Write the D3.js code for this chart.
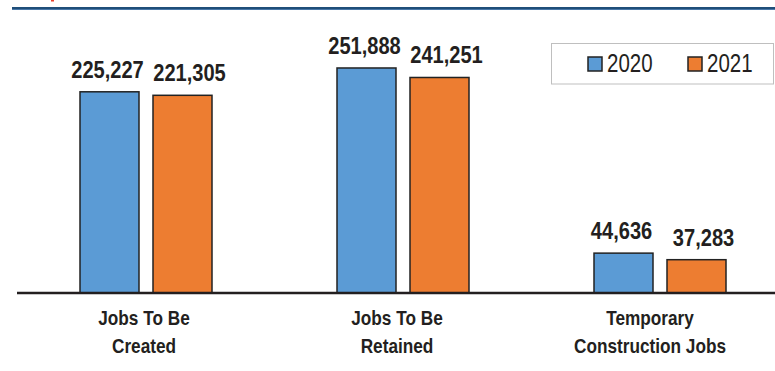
<!DOCTYPE html>
<html>
<head>
<meta charset="utf-8">
<script src="https://cdn.jsdelivr.net/npm/d3@7"></script>
<style>
  body { margin: 0; background: #fff; }
  svg { display: block; font-family: "Liberation Sans", Arial, sans-serif; }
</style>
</head>
<body>
<svg id="chart"></svg>
<script>
// chart data
const categories = [["Jobs To Be", "Created"], ["Jobs To Be", "Retained"], ["Temporary", "Construction Jobs"]];
const years = ["2020", "2021"];
const values2020 = [225227, 251888, 44636];
const values2021 = [221305, 241251, 37283];

const width = 775;
const height = 371;
const colors = { "2020": "#5B9BD5", "2021": "#ED7D31" };
const labelShift = { "2020": -2, "2021": 7 }; // labels sit a little off-centre in the original
const narrow = 0.82; // squeeze Liberation Sans into an Arial Narrow look

const svg = d3.select("#chart").attr("width", width).attr("height", height);

// header rule and the clipped red title fragment
svg.append("rect").attr("x", 12).attr("y", 7).attr("width", width - 12).attr("height", 2).attr("fill", "#1F4E79");
svg.append("rect").attr("x", 12).attr("y", 9).attr("width", width - 12).attr("height", 1).attr("fill", "#4A78A8");
svg.append("rect").attr("x", 51).attr("y", 0).attr("width", 3).attr("height", 1.5).attr("fill", "#E8412C");

const baseY = 293;
const x = d3.scaleBand().domain(d3.range(categories.length)).range([17.5, 788.5]);
// category labels are centred on the visible axis, not on the bar pairs
const xLabel = d3.scaleBand().domain(d3.range(categories.length)).range([17.5, 776.5]);
const y = d3.scaleLinear().domain([0, 300000]).range([baseY, 25]);

const barW = 59, gap = 14;
const rows = [];
categories.forEach((c, i) => {
  rows.push({ i, year: "2020", v: values2020[i] });
  rows.push({ i, year: "2021", v: values2021[i] });
});
const barX = (d) => x(d.i) + x.bandwidth() / 2 + (d.year === "2020" ? -gap / 2 - barW : gap / 2);

svg.append("g").selectAll("rect")
  .data(rows)
  .join("rect")
  .attr("x", barX)
  .attr("y", (d) => y(d.v))
  .attr("width", barW)
  .attr("height", (d) => baseY - y(d.v))
  .attr("fill", (d) => colors[d.year])
  .attr("stroke", "#222")
  .attr("stroke-width", 1.5);

// value labels
svg.append("g").selectAll("text")
  .data(rows)
  .join("text")
  .attr("transform", (d) => `translate(${barX(d) + barW / 2 + labelShift[d.year]},${y(d.v) - 14}) scale(${narrow},1)`)
  .attr("text-anchor", "middle")
  .attr("font-size", 24.5)
  .attr("font-weight", "bold")
  .attr("fill", "#231F20")
  .text((d) => d3.format(",")(d.v));

// baseline
svg.append("line")
  .attr("x1", 17).attr("x2", width)
  .attr("y1", baseY).attr("y2", baseY)
  .attr("stroke", "#231F20").attr("stroke-width", 2.5);

// category labels
const cat = svg.append("g").selectAll("g")
  .data(categories)
  .join("g")
  .attr("transform", (d, i) => `translate(${xLabel(i) + xLabel.bandwidth() / 2},0) scale(${narrow},1)`);
cat.selectAll("text")
  .data((d) => d)
  .join("text")
  .attr("x", 0)
  .attr("y", (d, k) => 325 + k * 28)
  .attr("text-anchor", "middle")
  .attr("font-size", 21)
  .attr("font-weight", "bold")
  .attr("fill", "#231F20")
  .text((d) => d);

// legend
const legend = svg.append("g");
legend.append("rect")
  .attr("x", 551.5).attr("y", 43.5).attr("width", 222).attr("height", 40.5)
  .attr("fill", "#fff").attr("stroke", "#BFBFBF").attr("stroke-width", 1);
const legX = d3.scalePoint().domain(years).range([588, 688]);
const item = legend.selectAll("g.item").data(years).join("g").attr("class", "item");
item.append("rect")
  .attr("x", (d) => legX(d)).attr("y", 57)
  .attr("width", 14).attr("height", 14)
  .attr("fill", (d) => colors[d]).attr("stroke", "#222").attr("stroke-width", 1.5);
item.append("text")
  .attr("transform", (d) => `translate(${legX(d) + 19},72) scale(${narrow},1)`)
  .attr("font-size", 25)
  .attr("fill", "#231F20")
  .text((d) => d);
</script>
</body>
</html>
